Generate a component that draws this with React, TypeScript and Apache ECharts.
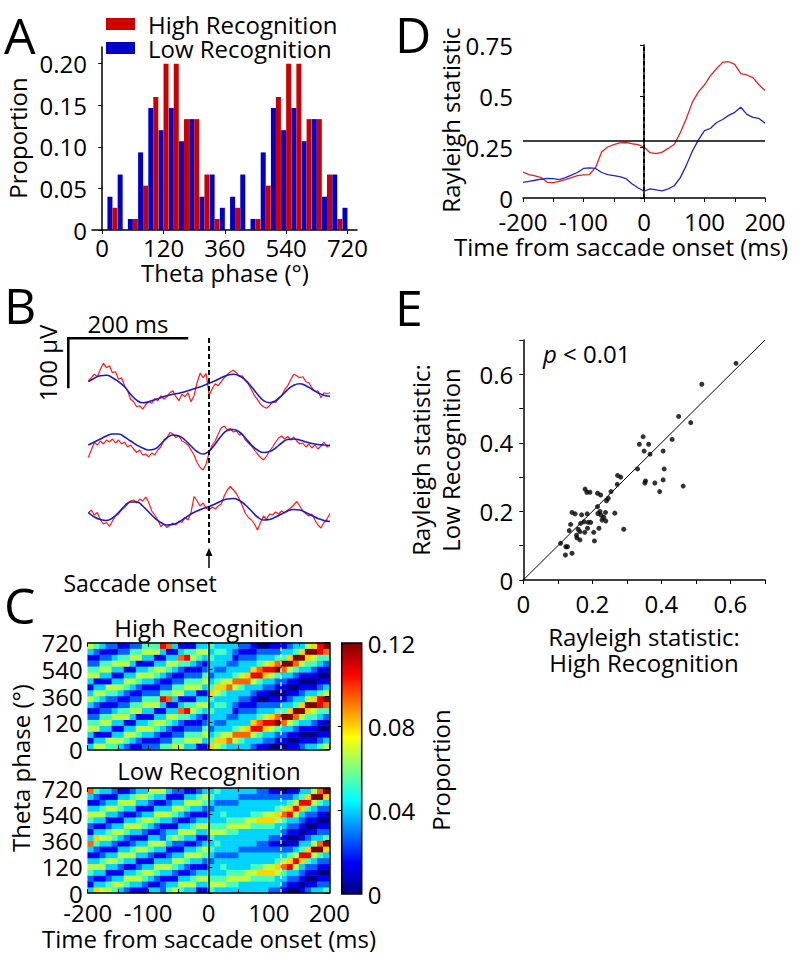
import React, { useEffect, useRef } from 'react';
import * as echarts from 'echarts';

const FONT = '"Open Sans", "DejaVu Sans", sans-serif';
const W = 801;
const H = 954;

// ---------- Panel A: phase histogram ----------
const phaseBins = [30, 60, 90, 120, 150, 180, 210, 240, 270, 300, 330, 360, 390, 420, 450, 480, 510, 540, 570, 600, 630, 660, 690, 720];
const highRecProp = [0.0267, 0, 0.0133, 0.0533, 0.16, 0.2, 0.2, 0.1333, 0.1333, 0.0667, 0.0133, 0, 0.0267, 0, 0.0133, 0.0533, 0.16, 0.2, 0.2, 0.1333, 0.1333, 0.0667, 0.0133, 0];
const lowRecProp = [0.04, 0.0667, 0.0133, 0.0933, 0.1467, 0.12, 0.1467, 0.1067, 0.1333, 0.04, 0.0667, 0.0267, 0.04, 0.0667, 0.0133, 0.0933, 0.1467, 0.12, 0.1467, 0.1067, 0.1333, 0.04, 0.0667, 0.0267];
const phaseTicks = [0, 180, 360, 540, 720];
const phaseTickLabels = ['0', '120', '360', '540', '720'];
const propTicks = [0, 0.05, 0.1, 0.15, 0.2];
const propTickLabels = ['0', '0.05', '0.10', '0.15', '0.20'];

// ---------- Panel B: example traces (µV, 5 ms raw / 10 ms filtered) ----------
const rawTrace1 = [12, 18, 25, 20, 35, 47, 38, 42, 28, 30, 15, 18, 2, -8, -25, -30, -40, -38, -45, -36, -30, -33, -24, -28, -18, -25, -20, -12, -8, -20, -28, -15, -20, -12, -30, -18, 8, 27, 18, 26, -17, -4, 6, 2, 10, 18, 24, 30, 33, 28, 20, 22, 12, 5, -6, -18, -26, -35, -40, -43, -38, -30, -32, -22, -18, -6, 2, 14, 25, 22, 18, 20, 10, 8, -2, -10, -8, -22, -12, -14, -12];
const rawTrace2 = [-25, -10, 5, 0, 8, 2, 10, 6, 12, 4, 10, 2, 6, -4, 0, -8, -15, -10, -20, -18, -24, -16, -20, -10, -4, 10, 14, 25, 22, 15, 18, 8, 5, 0, -10, -20, -35, -45, -50, -38, -15, 0, 8, 22, 34, 38, 30, 33, 26, 28, 20, 22, 10, 4, -2, -10, -18, -25, -30, -22, -12, -4, 6, 14, 18, 12, 17, 10, 16, 8, 2, 4, -4, 2, -6, 0, -8, -2, 6, -4, 0];
const rawTrace3 = [-6, 0, -10, -5, -20, -28, -25, -33, -22, -12, -8, 0, 5, 12, 18, 20, 14, 22, 18, 26, 15, -2, -10, -20, -33, -28, -35, -30, -26, -30, -22, -25, -15, -20, -5, 27, 18, 8, 14, 4, 0, 6, 2, 8, 12, 28, 40, 47, 40, 33, 22, 8, -7, -15, -20, -28, -40, -25, -12, -18, -8, -10, -4, -8, -2, -6, 0, 4, 10, 17, 8, -2, -7, -12, -8, -20, -30, -36, -25, -18, -7];
const thetaTrace1 = [10, 17, 22, 23, 18, 10, 0, -15, -27, -32, -30, -26, -22, -18, -15, -13, -10, -6, -2, 2, 7, 12, 18, 23, 25, 22, 13, 0, -15, -28, -32, -28, -18, -6, 3, 6, 2, -5, -12, -17, -19];
const thetaTrace2 = [0, 6, 12, 18, 22, 22, 16, 8, 0, -6, -10, -8, 2, 14, 20, 18, 10, -2, -13, -18, -12, 2, 18, 29, 31, 26, 14, 0, -10, -15, -13, -6, 4, 11, 12, 10, 6, 3, 1, 0, -1];
const thetaTrace3 = [-5, -14, -19, -21, -16, -5, 8, 16, 16, 8, -4, -16, -25, -30, -29, -24, -16, -8, -2, 3, 7, 12, 18, 22, 23, 19, 10, -2, -14, -20, -19, -14, -8, -2, 1, 0, -5, -11, -17, -21, -23];

// ---------- Panel C: phase-time heatmaps (levels 0..9 of 0..0.12; rows 0-360° bottom->top, 40° each; columns 10 ms) ----------
const highRecCols = ['313542135', '531542124', '531354213', '451354212', '453135312', '353135421', '245315421', '135313542', '124531542', '213531354', '213541354', '212453154', '421353138', '421245317', '542135313', '542124731', '354214841', '354213541', '154212453', '135421353', '643233434', '564323343', '465323343', '375332333', '357432123', '347533212', '337633212', '235863211', '134874320', '123685320', '023586321', '012497421', '012379431', '101359632', '101247943', '210135963', '310134695', '310124596', '421013488', '531012479'];
const lowRecCols = ['312453137', '631353124', '531354213', '542135313', '453135312', '353124531', '245313531', '135313542', '135421353', '124531353', '313531245', '312453135', '221353135', '431353213', '531245312', '453135312', '353124531', '354213531', '135313542', '135312453', '454332343', '354333234', '354343233', '345433233', '345433233', '335433323', '335533323', '334543323', '334643322', '334653322', '234653321', '233564321', '123475320', '012386421', '012358531', '101236843', '210124863', '310123595', '321012497', '421012369'];
const colorbarTicks = [0, 0.04, 0.08, 0.12];
const colorbarLabels = ['0', '0.04', '0.08', '0.12'];
const saccadeOnset = 0;
const laterMark = 120;

// ---------- Panel D: Rayleigh statistic over time (10 ms) ----------
const dHigh = [0.127, 0.115, 0.108, 0.1, 0.077, 0.075, 0.082, 0.09, 0.1, 0.11, 0.113, 0.115, 0.15, 0.225, 0.25, 0.262, 0.27, 0.272, 0.266, 0.262, 0.25, 0.222, 0.218, 0.225, 0.243, 0.262, 0.32, 0.39, 0.47, 0.52, 0.555, 0.6, 0.635, 0.665, 0.668, 0.655, 0.61, 0.603, 0.59, 0.555, 0.527];
const dLow = [0.077, 0.082, 0.087, 0.092, 0.096, 0.095, 0.09, 0.1, 0.112, 0.125, 0.145, 0.148, 0.145, 0.125, 0.115, 0.11, 0.105, 0.095, 0.07, 0.05, 0.033, 0.045, 0.04, 0.035, 0.045, 0.06, 0.1, 0.16, 0.23, 0.285, 0.33, 0.342, 0.37, 0.385, 0.405, 0.42, 0.445, 0.41, 0.395, 0.39, 0.367];
const dThreshold = 0.275;

// ---------- Panel E: per-unit Rayleigh statistic ----------
const eHigh = [0.616, 0.517, 0.45, 0.485, 0.431, 0.463, 0.347, 0.336, 0.363, 0.35, 0.367, 0.405, 0.331, 0.408, 0.354, 0.352, 0.381, 0.405, 0.395, 0.273, 0.282, 0.272, 0.254, 0.246, 0.241, 0.265, 0.291, 0.179, 0.184, 0.193, 0.215, 0.224, 0.215, 0.222, 0.216, 0.225, 0.233, 0.238, 0.228, 0.239, 0.219, 0.204, 0.206, 0.141, 0.15, 0.169, 0.185, 0.176, 0.188, 0.195, 0.166, 0.137, 0.133, 0.159, 0.186, 0.164, 0.178, 0.155, 0.164, 0.108, 0.123, 0.128, 0.141, 0.122, 0.154];
const eLow = [0.632, 0.571, 0.477, 0.459, 0.41, 0.274, 0.418, 0.396, 0.396, 0.376, 0.367, 0.376, 0.324, 0.324, 0.289, 0.283, 0.283, 0.292, 0.258, 0.305, 0.3, 0.279, 0.258, 0.238, 0.231, 0.195, 0.148, 0.265, 0.256, 0.256, 0.253, 0.248, 0.214, 0.2, 0.194, 0.189, 0.183, 0.197, 0.175, 0.172, 0.151, 0.139, 0.114, 0.197, 0.193, 0.19, 0.193, 0.17, 0.168, 0.168, 0.165, 0.162, 0.144, 0.148, 0.151, 0.141, 0.139, 0.123, 0.117, 0.107, 0.097, 0.097, 0.078, 0.073, 0.131];

const JET = ['#00007f', '#0000ff', '#007fff', '#00ffff', '#7fff7f', '#ffff00', '#ff7f00', '#ff0000', '#7f0000'];
const RED = '#cc0000';
const BLUE = '#0000c8';

const time5 = Array.from({ length: 81 }, (_, i) => -200 + 5 * i);
const time10 = Array.from({ length: 41 }, (_, i) => -200 + 10 * i);

function heatData(cols: string[]) {
  const out: number[][] = [];
  cols.forEach((col, c) => {
    for (let r = 0; r < 18; r++) out.push([c, r, (Number(col[r % 9]) * 0.12) / 9]);
  });
  return out;
}

const lab = (extra: any = {}) => ({ color: '#000', fontSize: 24, lineHeight: 22, fontFamily: FONT, ...extra });
const axLine = (show = true) => ({ show, lineStyle: { color: '#000', width: 1.5 } });

function text(t: string, x: number, y: number, opts: any = {}) {
  const { size = 24, rot = 0, align = 'center', rich } = opts;
  return {
    type: 'text',
    x,
    y,
    rotation: rot,
    z: 20,
    style: { text: t, fontSize: size, lineHeight: size, fontFamily: FONT, fill: '#000', align, verticalAlign: 'middle', rich },
  };
}

function buildOption(): any {
  const tCats = time10.slice(0, 40).map((t) => String(t + 5));
  const phCats = Array.from({ length: 18 }, (_, i) => String(20 + 40 * i));
  const ticks50 = [-200, -150, -100, -50, 0, 50, 100, 150, 200];
  const labels100 = [-200, -100, 0, 100, 200];
  const phaseFmt = (v: number) => phaseTickLabels[phaseTicks.indexOf(Number(v))] ?? '';

  const heatX = (gi: number, pos: string, labels: boolean) => ({
    gridIndex: gi, type: 'value', min: -200, max: 200, position: pos, z: 10,
    axisLine: axLine(), splitLine: { show: false },
    axisTick: { show: true, inside: true, length: 4, customValues: ticks50, lineStyle: { color: '#000', width: 1 } },
    axisLabel: labels ? { show: true, customValues: labels100, margin: 8, ...lab() } : { show: false },
  });
  const heatY = (gi: number, pos: string, labels: boolean) => ({
    gridIndex: gi, type: 'value', min: 0, max: 720, position: pos, z: 10,
    axisLine: axLine(), splitLine: { show: false },
    axisTick: { show: true, inside: true, length: 4, customValues: phaseTicks, lineStyle: { color: '#000', width: 1 } },
    axisLabel: labels ? { show: true, customValues: phaseTicks, formatter: phaseFmt, margin: 5, ...lab() } : { show: false },
  });

  const xAxis = [
    { gridIndex: 0, type: 'value', min: -30, max: 748, axisLine: axLine(), splitLine: { show: false },
      axisTick: { show: true, length: 4, customValues: phaseTicks, lineStyle: { color: '#000' } },
      axisLabel: { customValues: phaseTicks, formatter: phaseFmt, margin: 6, ...lab() } },
    { gridIndex: 1, type: 'value', min: -200, max: 200, show: false },
    { gridIndex: 2, type: 'category', data: tCats, show: false },
    heatX(2, 'bottom', false),
    heatX(2, 'top', false),
    { gridIndex: 3, type: 'category', data: tCats, show: false },
    heatX(3, 'bottom', true),
    heatX(3, 'top', false),
    { gridIndex: 4, type: 'value', show: false },
    { gridIndex: 5, type: 'value', min: -200, max: 200, axisLine: axLine(), splitLine: { show: false },
      axisTick: { show: true, length: 4, customValues: ticks50, lineStyle: { color: '#000' } },
      axisLabel: { customValues: labels100, margin: 12, ...lab() } },
    { gridIndex: 6, type: 'value', min: 0, max: 0.7, axisLine: axLine(), splitLine: { show: false },
      axisTick: { show: true, length: 4, customValues: [0, 0.1, 0.2, 0.3, 0.4, 0.5, 0.6, 0.7], lineStyle: { color: '#000' } },
      axisLabel: { customValues: [0, 0.2, 0.4, 0.6], margin: 12, ...lab() } },
  ];

  const yAxis = [
    { gridIndex: 0, type: 'value', min: 0, max: 0.22, axisLine: axLine(), splitLine: { show: false },
      axisTick: { show: true, length: 4, customValues: propTicks, lineStyle: { color: '#000' } },
      axisLabel: { customValues: propTicks, formatter: (v: number) => propTickLabels[propTicks.indexOf(Number(v))] ?? '', margin: 5, ...lab() } },
    { gridIndex: 1, type: 'value', min: 0, max: 410, show: false },
    { gridIndex: 2, type: 'category', data: phCats, show: false },
    heatY(2, 'left', true),
    heatY(2, 'right', false),
    { gridIndex: 3, type: 'category', data: phCats, show: false },
    heatY(3, 'left', true),
    heatY(3, 'right', false),
    { gridIndex: 4, type: 'value', min: 0, max: 0.12, position: 'right', z: 10, axisLine: { show: false }, splitLine: { show: false },
      axisTick: { show: true, inside: true, length: 4, customValues: [0.04, 0.08], lineStyle: { color: '#000' } },
      axisLabel: { customValues: colorbarTicks, formatter: (v: number) => colorbarLabels[colorbarTicks.indexOf(Number(v))] ?? '', margin: 6, ...lab() } },
    { gridIndex: 5, type: 'value', min: 0, max: 0.75, axisLine: axLine(), splitLine: { show: false },
      axisTick: { show: true, length: 4, customValues: [0, 0.25, 0.5, 0.75], lineStyle: { color: '#000' } },
      axisLabel: { customValues: [0, 0.25, 0.5, 0.75], margin: 10, ...lab() } },
    { gridIndex: 6, type: 'value', min: 0, max: 0.7, axisLine: axLine(), splitLine: { show: false },
      axisTick: { show: true, length: 4, customValues: [0, 0.1, 0.2, 0.3, 0.4, 0.5, 0.6, 0.7], lineStyle: { color: '#000' } },
      axisLabel: { customValues: [0, 0.2, 0.4, 0.6], margin: 10, ...lab() } },
  ];

  const offsets = [312.6, 196, 66];
  const raws = [rawTrace1, rawTrace2, rawTrace3];
  const thetas = [thetaTrace1, thetaTrace2, thetaTrace3];

  const series: any[] = [
    { name: 'Low Recognition', type: 'bar', xAxisIndex: 0, yAxisIndex: 0, barWidth: 5, barGap: '0%', itemStyle: { color: BLUE },
      data: phaseBins.map((p, i) => [p, lowRecProp[i]]) },
    { name: 'High Recognition', type: 'bar', xAxisIndex: 0, yAxisIndex: 0, barWidth: 5, barGap: '0%', itemStyle: { color: RED },
      data: phaseBins.map((p, i) => [p, highRecProp[i]]) },
  ];
  raws.forEach((r, k) => {
    series.push({
      type: 'line', xAxisIndex: 1, yAxisIndex: 1, showSymbol: false, symbol: 'none',
      lineStyle: { color: '#ff1a1a', width: 1.2 },
      data: r.map((v, i) => [time5[i], v + offsets[k]]),
      markLine: k === 0 ? { symbol: 'none', silent: true, label: { show: false },
        lineStyle: { color: '#000', type: [5, 3], width: 2 }, data: [{ xAxis: saccadeOnset }] } : undefined,
    });
  });
  thetas.forEach((r, k) => {
    series.push({
      type: 'line', xAxisIndex: 1, yAxisIndex: 1, showSymbol: false, symbol: 'none', smooth: true,
      lineStyle: { color: '#1a1acc', width: 1.6 },
      data: r.map((v, i) => [time10[i], v + offsets[k]]),
    });
  });
  series.push(
    { type: 'heatmap', xAxisIndex: 2, yAxisIndex: 2, data: heatData(highRecCols) },
    { type: 'heatmap', xAxisIndex: 5, yAxisIndex: 5, data: heatData(lowRecCols) },
  );
  const heatIdx = [series.length - 2, series.length - 1];
  [[3, 3], [6, 6]].forEach(([xi, yi]) => {
    series.push(
      { type: 'line', xAxisIndex: xi, yAxisIndex: yi, showSymbol: false, symbol: 'none', z: 6,
        lineStyle: { color: '#eef8ff', width: 1.6 }, data: [[saccadeOnset, 0], [saccadeOnset, 720]] },
      { type: 'line', xAxisIndex: xi, yAxisIndex: yi, showSymbol: false, symbol: 'none', z: 6,
        lineStyle: { color: '#eef8ff', width: 1.4, type: [4, 3] }, data: [[laterMark, 0], [laterMark, 720]] },
    );
  });
  series.push(
    { type: 'line', xAxisIndex: 9, yAxisIndex: 9, showSymbol: false, symbol: 'none',
      lineStyle: { color: '#e02424', width: 1.3 }, data: dHigh.map((v, i) => [time10[i], v]),
      markLine: { symbol: 'none', silent: true, label: { show: false },
        data: [
          { yAxis: dThreshold, lineStyle: { color: '#000', width: 1.5, type: 'solid' } },
          { xAxis: saccadeOnset, lineStyle: { color: '#000', width: 2, type: [4, 3] } },
        ] } },
    { type: 'line', xAxisIndex: 9, yAxisIndex: 9, showSymbol: false, symbol: 'none',
      lineStyle: { color: '#2424cc', width: 1.3 }, data: dLow.map((v, i) => [time10[i], v]) },
    { type: 'line', xAxisIndex: 10, yAxisIndex: 10, showSymbol: false, symbol: 'none',
      lineStyle: { color: '#000', width: 1 }, data: [[0, 0], [0.7, 0.7]] },
    { type: 'scatter', xAxisIndex: 10, yAxisIndex: 10, symbolSize: 5, itemStyle: { color: '#000' },
      data: eHigh.map((v, i) => [v, eLow[i]]) },
  );

  const gradient = new echarts.graphic.LinearGradient(0, 1, 0, 0,
    JET.map((c, i) => ({ offset: i / (JET.length - 1), color: c })));

  const graphic = [
    // panel letters
    text('A', 4, 35, { size: 50, align: 'left' }),
    text('B', 4, 305, { size: 50, align: 'left' }),
    text('C', 4, 605, { size: 50, align: 'left' }),
    text('D', 395, 34, { size: 50, align: 'left' }),
    text('E', 395, 307, { size: 50, align: 'left' }),
    // A
    text('Proportion', 17, 138, { rot: Math.PI / 2 }),
    text('Theta phase (°)', 225, 272),
    // B
    { type: 'polyline', z: 20, shape: { points: [[68.3, 388.3], [68.3, 338.3], [188.3, 338.3]] }, style: { stroke: '#000', lineWidth: 2.5, fill: null } },
    text('200 ms', 128, 323),
    text('100 µV', 47, 363, { rot: Math.PI / 2 }),
    { type: 'line', z: 20, shape: { x1: 209, y1: 568, x2: 209, y2: 553 }, style: { stroke: '#000', lineWidth: 1.5 } },
    { type: 'polygon', z: 20, shape: { points: [[205.5, 556], [209, 548], [212.5, 556]] }, style: { fill: '#000' } },
    text('Saccade onset', 140, 583, { size: 23 }),
    // C
    text('High Recognition', 209, 627),
    text('Low Recognition', 209, 770),
    text('Theta phase (°)', 20, 768, { rot: Math.PI / 2 }),
    text('Time from saccade onset (ms)', 209, 938),
    text('Proportion', 440, 770, { rot: Math.PI / 2 }),
    { type: 'rect', z: 1, shape: { x: 341.7, y: 643, width: 20, height: 251 }, style: { fill: gradient, stroke: '#000', lineWidth: 1.5 } },
    // D
    text('Rayleigh statistic', 450, 120, { rot: Math.PI / 2 }),
    text('Time from saccade onset (ms)', 621, 246),
    // E
    text('{i|p} < 0.01', 543, 353, { align: 'left', rich: { i: { fontStyle: 'italic', fontSize: 24, fontFamily: FONT } } }),
    text('Rayleigh statistic:', 420, 460, { rot: Math.PI / 2 }),
    text('Low Recognition', 450, 460, { rot: Math.PI / 2 }),
    text('Rayleigh statistic:', 644, 636),
    text('High Recognition', 644, 662),
  ];

  return {
    animation: false,
    backgroundColor: '#fff',
    textStyle: { fontFamily: FONT },
    grid: [
      { left: 92, top: 47, width: 265, height: 183 },
      { left: 88.3, top: 338, width: 241.7, height: 205 },
      { left: 87.7, top: 642.7, width: 241.6, height: 106.6 },
      { left: 87.7, top: 788, width: 241.6, height: 105 },
      { left: 341.7, top: 643, width: 20, height: 251 },
      { left: 523, top: 45, width: 242, height: 153 },
      { left: 523.3, top: 340, width: 241.7, height: 240 },
    ],
    legend: {
      data: ['High Recognition', 'Low Recognition'], orient: 'vertical', left: 106, top: 12, padding: 0, itemGap: 0,
      itemWidth: 29, itemHeight: 12, icon: 'rect', selectedMode: false,
      textStyle: { color: '#000', fontSize: 24, fontFamily: FONT, lineHeight: 24, padding: [0, 0, 0, 8] },
    },
    visualMap: { type: 'continuous', min: 0, max: 0.12, show: false, seriesIndex: heatIdx, inRange: { color: JET } },
    xAxis,
    yAxis,
    series,
    graphic: { elements: graphic },
  };
}

export default function App() {
  const ref = useRef<HTMLDivElement>(null);
  useEffect(() => {
    document.body.style.margin = '0';
    const chart = echarts.init(ref.current!, null, { renderer: 'svg' });
    chart.setOption(buildOption());
    return () => chart.dispose();
  }, []);
  return <div ref={ref} style={{ width: W, height: H }} />;
}
